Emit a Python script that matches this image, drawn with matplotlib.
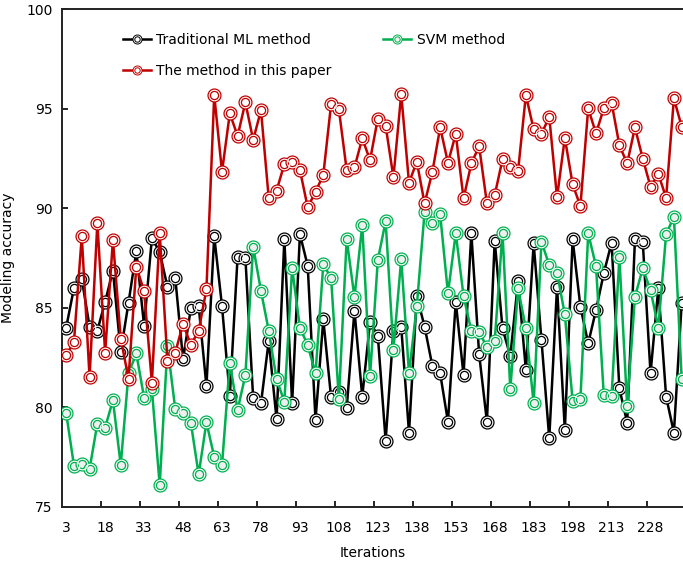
import matplotlib
matplotlib.use("Agg")
import matplotlib.pyplot as plt
import numpy as np
from matplotlib.lines import Line2D
from matplotlib.legend_handler import HandlerTuple

plt.rcParams['font.family'] = ['DejaVu Sans']

iterations = np.arange(3, 243, 3)

traditional_ml = [
    84.0, 86.0, 86.45, 84.05, 83.85, 85.3, 86.87, 82.78, 85.25, 87.84,
    84.1, 88.5, 87.8, 86.04, 86.5, 82.4, 84.97, 85.1, 81.06, 88.6,
    85.08, 80.56, 87.56, 87.5, 80.44, 80.19, 83.34, 79.39, 88.43, 80.19,
    88.7, 87.1, 79.36, 84.41, 80.49, 80.78, 79.94, 84.85, 80.53, 84.3,
    83.58, 78.32, 83.84, 84.05, 78.72, 85.59, 84.05, 82.07, 81.7, 79.27,
    85.3, 81.62, 88.74, 82.67, 79.27, 88.37, 83.96, 82.57, 86.34, 81.87,
    88.23, 83.38, 78.43, 86.06, 78.85, 88.43, 85.05, 83.21, 84.88, 86.73,
    88.27, 80.95, 79.22, 88.43, 88.32, 81.7, 86.0, 80.53, 78.72, 85.25]

svm = [
    79.7, 77.06, 77.14, 76.89, 79.18, 78.98, 80.35, 77.1, 81.7, 82.7,
    80.48, 80.9, 76.09, 83.08, 79.9, 79.7, 79.22, 76.62, 79.24, 77.51,
    77.09, 82.24, 79.86, 81.62, 88.07, 85.85, 83.84, 81.42, 80.28, 86.98,
    84.0, 83.12, 81.7, 87.18, 86.5, 80.39, 88.45, 85.52, 89.15, 81.57,
    87.4, 89.35, 82.9, 87.45, 81.7, 85.08, 89.82, 89.24, 89.69, 85.72,
    88.74, 85.59, 83.84, 83.76, 83.04, 83.32, 88.77, 80.9, 85.97, 83.96,
    80.19, 88.32, 87.14, 86.76, 84.66, 80.33, 80.39, 88.74, 87.09, 80.61,
    80.56, 87.53, 80.06, 85.55, 86.98, 85.89, 84.0, 88.7, 89.57, 81.4]

this_paper = [
    82.6, 83.3, 88.6, 81.5, 89.26, 82.74, 88.4, 83.45, 81.44, 87.06,
    85.84, 81.24, 88.76, 82.32, 82.74, 84.2, 83.12, 83.84, 85.92, 95.69,
    91.83, 94.77, 93.63, 95.32, 93.43, 94.93, 90.49, 90.88, 92.22, 92.34,
    91.92, 90.04, 90.83, 91.67, 95.23, 94.97, 91.92, 92.05, 93.51, 92.42,
    94.51, 94.15, 91.55, 95.74, 91.28, 92.34, 90.24, 91.83, 94.06, 92.29,
    93.73, 90.49, 92.25, 93.12, 90.24, 90.66, 92.45, 92.05, 91.88, 95.69,
    93.96, 93.73, 94.6, 90.54, 93.54, 91.2, 90.11, 95.02, 93.76, 95.02,
    95.3, 93.17, 92.25, 94.06, 92.5, 91.08, 91.72, 90.53, 95.52, 94.1]

labels = ["Traditional ML method", "SVM method", "The method in this paper"]
colors = ["#000000", "#00b050", "#c00000"]
faces = ["#ffffff", "#efefef", "#ffffff"]
series = [traditional_ml, svm, this_paper]

fig = plt.figure(figsize=(6.83, 5.62), dpi=100)
ax = fig.add_axes([0.0912, 0.0984, 0.9088, 0.8851])

handles = []
for i, (ys, c, fc, lab) in enumerate(zip(series, colors, faces, labels)):
    z = 3 + i
    ax.plot(iterations, ys, color=c, lw=1.8, marker='o', ms=7.6,
            mew=2.6, mec=c, mfc=fc, zorder=z, label=lab)
    ax.plot(iterations, ys, ls='none', marker='o', ms=7.6,
            mew=0.8, mec='white', mfc='none', zorder=z)
    lh = Line2D([], [], color=c, lw=1.8, marker='o', ms=5.2, mew=2.0,
                mec=c, mfc=fc)
    wh = Line2D([], [], ls='none', marker='o', ms=5.2, mew=0.6,
                mec='white', mfc='none')
    handles.append((lh, wh))

order = [0, 2, 1]
ax.legend([handles[i] for i in order], [labels[i] for i in order],
          handler_map={tuple: HandlerTuple(ndivide=1)},
          ncol=2, loc='upper left', bbox_to_anchor=(0.098, 0.952),
          frameon=False, fontsize=10, borderpad=0, borderaxespad=0,
          handlelength=2.0, handletextpad=0.4, columnspacing=3.7,
          labelspacing=1.2)

ax.set_xlim(1.5, 240.5)
ax.set_ylim(75, 100)
ax.set_yticks([75, 80, 85, 90, 95, 100])
ax.set_xticks(np.arange(3, 229, 15))
ax.set_xticks(np.arange(16.5, 240, 15), minor=True)
ax.tick_params(axis='x', which='major', length=0, pad=10, labelsize=10)
ax.tick_params(axis='x', which='minor', direction='in', length=4, width=1.2)
ax.tick_params(axis='y', which='major', direction='in', length=4, width=1.2,
               pad=7, labelsize=10)

for s in ['left', 'bottom', 'top']:
    ax.spines[s].set_linewidth(1.4)
    ax.spines[s].set_color('#222222')
ax.spines['right'].set_visible(False)

ax.set_xlabel("Iterations", fontsize=10, labelpad=8)
ax.set_ylabel("Modeling accuracy", fontsize=10, labelpad=8)

fig.savefig("out.png", dpi=100)
